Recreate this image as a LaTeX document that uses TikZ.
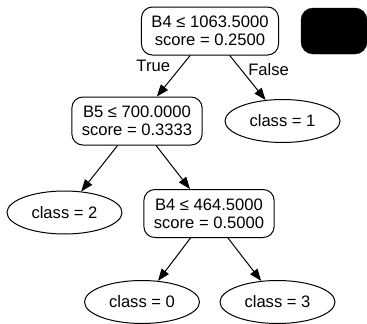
\documentclass[tikz,border=0pt]{standalone}
\usepackage{fontspec}
\setmainfont{Liberation Sans}
\usetikzlibrary{positioning,shapes.geometric,arrows.meta}
\begin{document}
\begin{tikzpicture}[
                        x=1pt, y=-1pt,
                        node distance=90pt and 73pt, on grid,
                        >={Triangle[length=12pt,width=9pt]},
                        every node/.style={font=\fontsize{16.6}{17.6}\selectfont},
                        split/.style={rectangle, draw, line width=1pt, rounded corners=11pt, align=center, inner xsep=10pt, inner ysep=0pt, minimum height=48pt},
                        leaf/.style={ellipse, draw, line width=1pt, inner sep=0pt, minimum width=115pt, minimum height=43pt},
                        edgelabel/.style={inner sep=0pt}
                    ]
                    \useasboundingbox (0,0) rectangle (367,324);
                    % Blocks
                    \node [split] at (210,31) (root) {B4 ≤ 1063.5000\\score = 0.2500};
                    \node [rectangle, draw, fill=black, rounded corners=12pt, minimum width=66pt, minimum height=46pt, right=124pt of root] (blank) {};
                    \node [split, below left=90pt and 73pt of root] (b5) {B5 ≤ 700.0000\\score = 0.3333};
                    \node [leaf, below right=90pt and 72.5pt of root] (class1) {class = 1};
                    \node [leaf, below left=91.5pt and 72.5pt of b5] (class2) {class = 2};
                    \node [split, below right=92.5pt and 72pt of b5] (b4) {B4 ≤ 464.5000\\score = 0.5000};
                    \node [leaf, below left=88.5pt and 67pt of b4] (class0) {class = 0};
                    \node [leaf, below right=88.5pt and 68.5pt of b4] (class3) {class = 3};

                    % Connections
                    \draw [->, line width=1pt] (root) -- node[edgelabel, pos=0.26, left=11pt]{True} (b5);
                    \draw [->, line width=1pt] (root) -- node[edgelabel, pos=0.31, right=7pt]{False} (class1);
                    \draw [->, line width=1pt] (b5) -- (class2);
                    \draw [->, line width=1pt] (b5) -- (b4);
                    \draw [->, line width=1pt] (b4) -- (class0);
                    \draw [->, line width=1pt] (b4) -- (class3);
                \end{tikzpicture}
\end{document}
